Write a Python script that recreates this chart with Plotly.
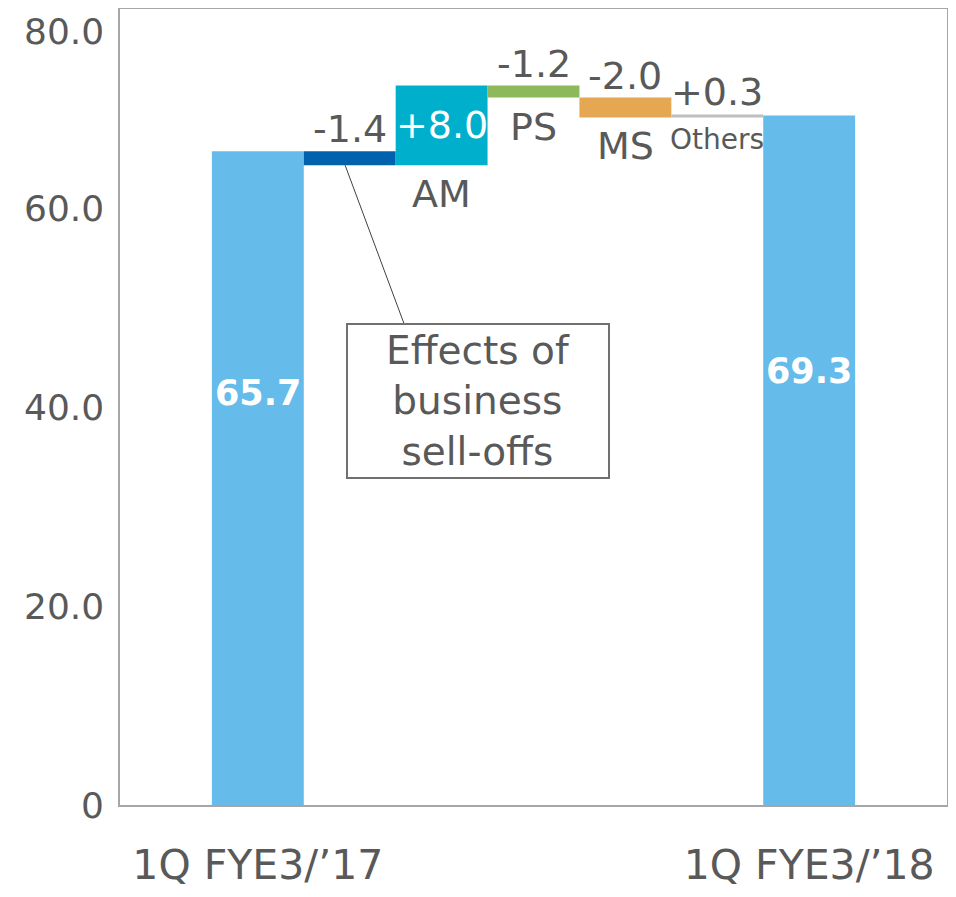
import plotly.graph_objects as go

# values
period_labels = ["1Q FYE3/’17", "1Q FYE3/’18"]
period_values = [65.7, 69.3]

step_names = ["", "AM", "PS", "MS", "Others"]
step_values = [-1.4, 8.0, -1.2, -2.0, 0.3]
step_colors = ["#0062AC", "#00AFCC", "#8DB85C", "#E5A752", "#BFBFBF"]

y_ticks = [0, 20, 40, 60, 80]
y_tick_text = ["0", "20.0", "40.0", "60.0", "80.0"]

callout_text = "Effects of<br>business<br>sell-offs"

GRAY = "#595959"
BLUE = "#65BBEA"
FONT = "DejaVu Sans"

x_start = 1
x_steps = [x_start + 1 + i for i in range(len(step_values))]
x_end = x_steps[-1] + 1

# running bases for the floating bars
bases, heights, tops, bottoms = [], [], [], []
running = period_values[0]
for v in step_values:
    lo = min(running, running + v)
    bases.append(lo)
    heights.append(abs(v))
    bottoms.append(lo)
    tops.append(lo + abs(v))
    running += v

fig = go.Figure()

fig.add_trace(go.Bar(
    x=[x_start, x_end],
    y=period_values,
    width=1,
    marker=dict(color=BLUE, line=dict(width=0)),
    hoverinfo="skip",
))

fig.add_trace(go.Bar(
    x=x_steps,
    y=heights,
    base=bases,
    width=1,
    marker=dict(color=step_colors, line=dict(width=0)),
    hoverinfo="skip",
))

annotations = []

# y tick labels (top one kept inside the page)
for v, t in zip(y_ticks, y_tick_text):
    annotations.append(dict(
        x=0, xref="paper", y=v, yref="y", text=t, showarrow=False,
        xanchor="right", xshift=-14,
        yanchor="top" if v == max(y_ticks) else "middle",
        font=dict(family=FONT, size=36, color=GRAY),
    ))

# totals inside the blue bars
for xv, v in zip([x_start, x_end], period_values):
    annotations.append(dict(
        x=xv, y=v * 0.63, text=f"{v:.1f}", showarrow=False,
        font=dict(family=FONT, size=35, color="white", weight="bold"),
    ))

# step labels
for i, (xv, v, name) in enumerate(zip(x_steps, step_values, step_names)):
    label = f"{v:+.1f}" if v > 0 else f"{v:.1f}"
    if i == 1:
        # the big step carries its label inside the bar
        annotations.append(dict(
            x=xv, y=(tops[i] + bottoms[i]) / 2, text=label, showarrow=False,
            font=dict(family=FONT, size=38, color="white"),
        ))
    else:
        annotations.append(dict(
            x=xv, y=tops[i], yshift=22, text=label, showarrow=False,
            yanchor="middle", font=dict(family=FONT, size=38, color=GRAY),
        ))
    if name:
        small = name == "Others"
        annotations.append(dict(
            x=xv, y=bottoms[i], yshift=-22 if small else -29, text=name,
            showarrow=False, yanchor="middle",
            font=dict(family=FONT, size=28 if small else 38, color=GRAY),
        ))

# callout box for the sell-off effect
annotations.append(dict(
    x=3.4, y=40.6, text=callout_text, showarrow=False,
    width=258, height=150, borderwidth=2, bordercolor="#707070",
    bgcolor="white", font=dict(family=FONT, size=39, color=GRAY),
))

fig.add_shape(
    type="line", x0=1.95, y0=bottoms[0], x1=2.59, y1=48.4,
    line=dict(color="#404040", width=1),
)

fig.update_layout(
    width=940,
    height=881,
    annotations=annotations,
    showlegend=False,
    barmode="overlay",
    plot_bgcolor="white",
    paper_bgcolor="white",
    margin=dict(l=112, r=1, t=1, b=84),
    font=dict(family=FONT, color=GRAY),
)

fig.update_xaxes(
    range=[-0.5, 8.5],
    tickvals=[x_start, x_end],
    ticktext=period_labels,
    tickfont=dict(family=FONT, size=41, color=GRAY),
    ticklabelstandoff=23,
    automargin=False,
    showgrid=False, zeroline=False,
    showline=True, mirror=True, linecolor="#A6A6A6", linewidth=1.5,
    ticks="",
)

fig.update_yaxes(
    range=[0, 80],
    showticklabels=False,
    automargin=False,
    showgrid=False, zeroline=False,
    showline=True, mirror=True, linecolor="#A6A6A6", linewidth=1.5,
    ticks="",
)

fig.write_html("out.html")
